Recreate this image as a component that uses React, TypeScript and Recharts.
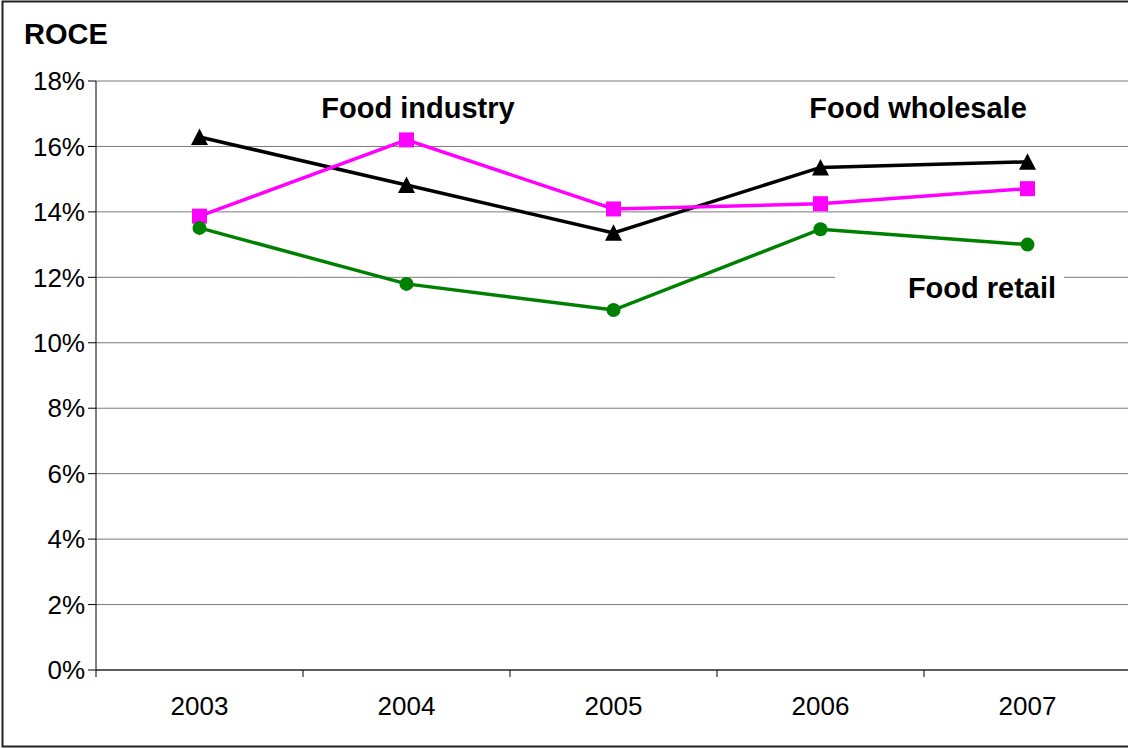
import React from "react";
import { LineChart, Line, XAxis, YAxis, CartesianGrid } from "recharts";

const years = [2003, 2004, 2005, 2006, 2007];
const blackSeries = [16.29, 14.82, 13.36, 15.36, 15.53];
const pinkSeries = [13.87, 16.2, 14.09, 14.25, 14.71];
const greenSeries = [13.51, 11.8, 11.0, 13.47, 13.0];
const yTicks = [0, 2, 4, 6, 8, 10, 12, 14, 16, 18];
const xTicks = [2002.5, 2003, 2003.5, 2004, 2004.5, 2005, 2005.5, 2006, 2006.5, 2007, 2007.5];

const data = years.map((y, i) => ({
  year: y,
  black: blackSeries[i],
  pink: pinkSeries[i],
  green: greenSeries[i],
}));

const FONT = "'Liberation Sans', Arial, sans-serif";

const Triangle = (props: any) => {
  const { cx, cy } = props;
  if (cx == null || cy == null) return null;
  return <polygon points={`${cx},${cy - 8.5} ${cx - 8.5},${cy + 8} ${cx + 8.5},${cy + 8}`} fill="#000" />;
};
const Square = (props: any) => {
  const { cx, cy } = props;
  if (cx == null || cy == null) return null;
  return <rect x={cx - 7.5} y={cy - 7.5} width={15} height={15} fill="#FF00FF" />;
};
const Circle = (props: any) => {
  const { cx, cy } = props;
  if (cx == null || cy == null) return null;
  return <circle cx={cx} cy={cy} r={7} fill="#008000" />;
};

const XTick = (props: any) => {
  const { x, y, payload } = props;
  const v = payload.value;
  if (Number.isInteger(v)) {
    return (
      <text x={x} y={y + 27} dy="0.71em" textAnchor="middle" fontSize={26} fontFamily={FONT} fill="#000">
        {String(v)}
      </text>
    );
  }
  return <line x1={x} y1={y} x2={x} y2={y + 7} stroke="#000" strokeWidth={1} />;
};

export default function App() {
  return (
    <div style={{ position: "absolute", left: 0, top: 0, width: 1128, height: 749, overflow: "hidden", background: "#fff" }}>
      <LineChart width={1140} height={749} data={data} margin={{ top: 81, right: 9, bottom: 0, left: 0 }}>
        <CartesianGrid horizontal={true} vertical={false} stroke="#7a7a7a" strokeWidth={1} />
        <XAxis
          dataKey="year"
          type="number"
          domain={[2002.5, 2007.5]}
          ticks={xTicks}
          interval={0}
          height={79}
          tickSize={0}
          tickMargin={0}
          tickLine={false}
          axisLine={{ stroke: "#000", strokeWidth: 1 }}
          tick={<XTick />}
          allowDecimals={true}
        />
        <YAxis
          type="number"
          domain={[0, 18]}
          ticks={yTicks}
          interval={0}
          width={96}
          tickSize={8}
          tickMargin={3}
          tickLine={{ stroke: "#000" }}
          axisLine={{ stroke: "#000", strokeWidth: 1 }}
          tickFormatter={(v: number) => `${v}%`}
          tick={{ fontSize: 26, fontFamily: FONT, fill: "#000" }}
        />
        <Line dataKey="black" stroke="#000" strokeWidth={3.5} dot={<Triangle />} activeDot={false} isAnimationActive={false} />
        <Line dataKey="pink" stroke="#FF00FF" strokeWidth={3.5} dot={<Square />} activeDot={false} isAnimationActive={false} />
        <Line dataKey="green" stroke="#008000" strokeWidth={3.5} dot={<Circle />} activeDot={false} isAnimationActive={false} />
      </LineChart>
      <svg width={1128} height={749} style={{ position: "absolute", left: 0, top: 0, pointerEvents: "none" }}>
        <rect x={2.5} y={1.5} width={1140} height={745} fill="none" stroke="#222" strokeWidth={2} />
        <text x={24} y={44} fontSize={29} fontWeight="bold" fontFamily={FONT} fill="#000">ROCE</text>
        <text x={418} y={118} fontSize={29} fontWeight="bold" fontFamily={FONT} fill="#000" textAnchor="middle">Food industry</text>
        <text x={918} y={118} fontSize={29} fontWeight="bold" fontFamily={FONT} fill="#000" textAnchor="middle">Food wholesale</text>
        <rect x={835} y={268} width={229} height={38} fill="#fff" />
        <text x={982} y={298} fontSize={29} fontWeight="bold" fontFamily={FONT} fill="#000" textAnchor="middle">Food retail</text>
      </svg>
    </div>
  );
}
